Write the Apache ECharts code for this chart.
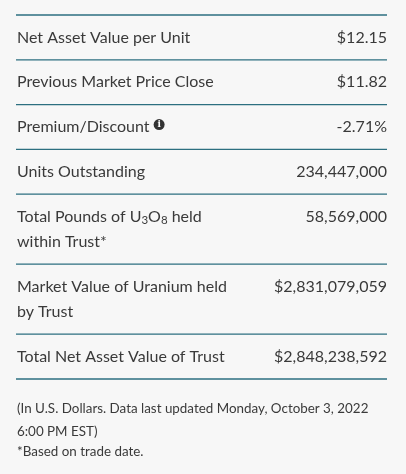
<!DOCTYPE html>
<html><head><meta charset="utf-8">
<script src="https://cdn.jsdelivr.net/npm/echarts@6/dist/echarts.min.js"></script>
<style>html,body{margin:0;padding:0;background:#f7f7f7}#c{width:406px;height:474px}</style>
</head><body><div id="c"></div>
<script>
const labels = [
  ["Net Asset Value per Unit"],
  ["Previous Market Price Close"],
  ["Premium/Discount {i|i}"],
  ["Units Outstanding"],
  ["Total Pounds of U{s|3}O{s|8} held", "within Trust*"],
  ["Market Value of Uranium held", "by Trust"],
  ["Total Net Asset Value of Trust"]
];
const values = ["$12.15", "$11.82", "-2.71%", "234,447,000", "58,569,000", "$2,831,079,059", "$2,848,238,592"];
const notes = ["(In U.S. Dollars. Data last updated Monday, October 3, 2022", "6:00 PM EST)", "*Based on trade date."];

const FONT = "Lato";
const COLOR = "#3a3a3a";
const LINE = "#2d6f80";
const L = 16, R = 387;
const g = [];
let y = 15;
g.push({type:'line', shape:{x1:L,y1:y,x2:R,y2:y}, style:{stroke:LINE,lineWidth:1.3}});
labels.forEach((lab, i) => {
  const h = lab.length > 1 ? 70 : 44.8;
  const first = y + 22.5;
  lab.forEach((t, j) => {
    g.push({type:'text', x:L+1, y:first + j*25, style:{
      text:t, font:`16px ${FONT}`, fill:COLOR, textVerticalAlign:'middle',
      rich:{
        s:{fontSize:11.5, fontFamily:FONT, fill:COLOR, padding:[8,0,0,0]},
        i:{fontSize:9, fontFamily:'DejaVu Serif', fontWeight:'bold', fill:'#fff', backgroundColor:'#333',
           borderRadius:6, width:11, height:11, align:'center', lineHeight:11, padding:[0,0,0,0], verticalAlign:'top'}
      }}});
  });
  g.push({type:'text', x:R, y:first, style:{text:values[i], font:`16px ${FONT}`, fill:COLOR,
    textAlign:'right', textVerticalAlign:'middle'}});
  y += h;
  g.push({type:'line', shape:{x1:L,y1:y,x2:R,y2:y}, style:{stroke:LINE,lineWidth:1.3}});
});
[409, 432, 452].forEach((yy, k) => {
  g.push({type:'text', x:L+1, y:yy, style:{text:notes[k], font:`13.4px ${FONT}`, fill:COLOR, textVerticalAlign:'middle'}});
});
const chart = echarts.init(document.getElementById('c'));
chart.setOption({backgroundColor:'#f7f7f7', graphic:{elements:g}});
</script></body></html>
